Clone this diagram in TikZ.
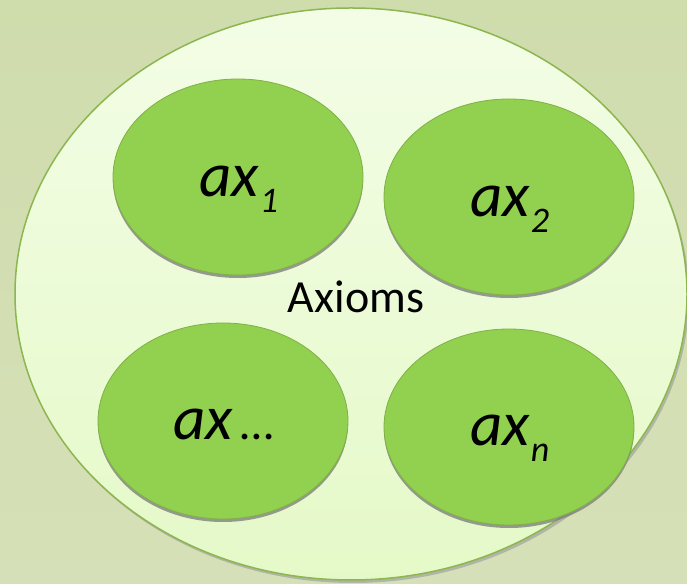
\documentclass[tikz,border=0pt]{standalone}
\usepackage{fontspec}
\setmainfont{Carlito}
\usetikzlibrary{shapes.geometric,shadows}
\definecolor{bgtop}{RGB}{207,220,172}
\definecolor{bgbot}{RGB}{214,224,184}
\definecolor{bigtop}{RGB}{243,253,230}
\definecolor{bigbot}{RGB}{229,249,200}
\definecolor{bigline}{RGB}{140,182,80}
\definecolor{axfill}{RGB}{146,208,80}
\definecolor{axline}{RGB}{128,176,70}
\tikzset{
  axbox/.style={ellipse, fill=axfill, draw=axline, line width=0.8pt,
    minimum width=250pt, minimum height=196pt, inner sep=0pt,
    drop shadow={shadow xshift=0pt, shadow yshift=-3pt, fill=black!50, opacity=0.8}},
  axlabel/.style={anchor=base west, inner sep=0pt, font=\fontsize{63}{72}\selectfont\itshape}
}
\begin{document}
\begin{tikzpicture}[x=1pt,y=1pt]
\shade[top color=bgtop, bottom color=bgbot] (0,0) rectangle (687,583);
\useasboundingbox (0,0) rectangle (687,583);
% big ellipse shadow
\fill[black!40, opacity=0.6] (353,286) ellipse [x radius=336, y radius=286];
\shade[top color=bigtop, bottom color=bigbot, draw=bigline, line width=1.5pt]
  (351,289) ellipse [x radius=336, y radius=286];
\coordinate (big) at (351,289);
\node[axbox] (e1) at (238,406) {};
\node[axbox] (e2) at (509,386) {};
\node[axbox] (e3) at (223,162) {};
\node[axbox] (e4) at (509,156) {};
\node[axlabel] (t1) at (199,386) {ax\kern1pt\raisebox{-16pt}{\fontsize{36}{40}\selectfont 1}};
\node[axlabel] (t2) at (470,366) {ax\kern1pt\raisebox{-16pt}{\fontsize{36}{40}\selectfont 2}};
\node[axlabel] (t3) at (173,143) {ax\kern8pt{\fontsize{48}{52}\selectfont\upshape …}};
\node[axlabel] (t4) at (470,137) {ax\kern1pt\raisebox{-16pt}{\fontsize{36}{40}\selectfont n}};
\node[anchor=base, inner sep=0pt, font=\fontsize{46}{54}\selectfont] (ax) at (356,270) {Axioms};
\end{tikzpicture}
\end{document}
